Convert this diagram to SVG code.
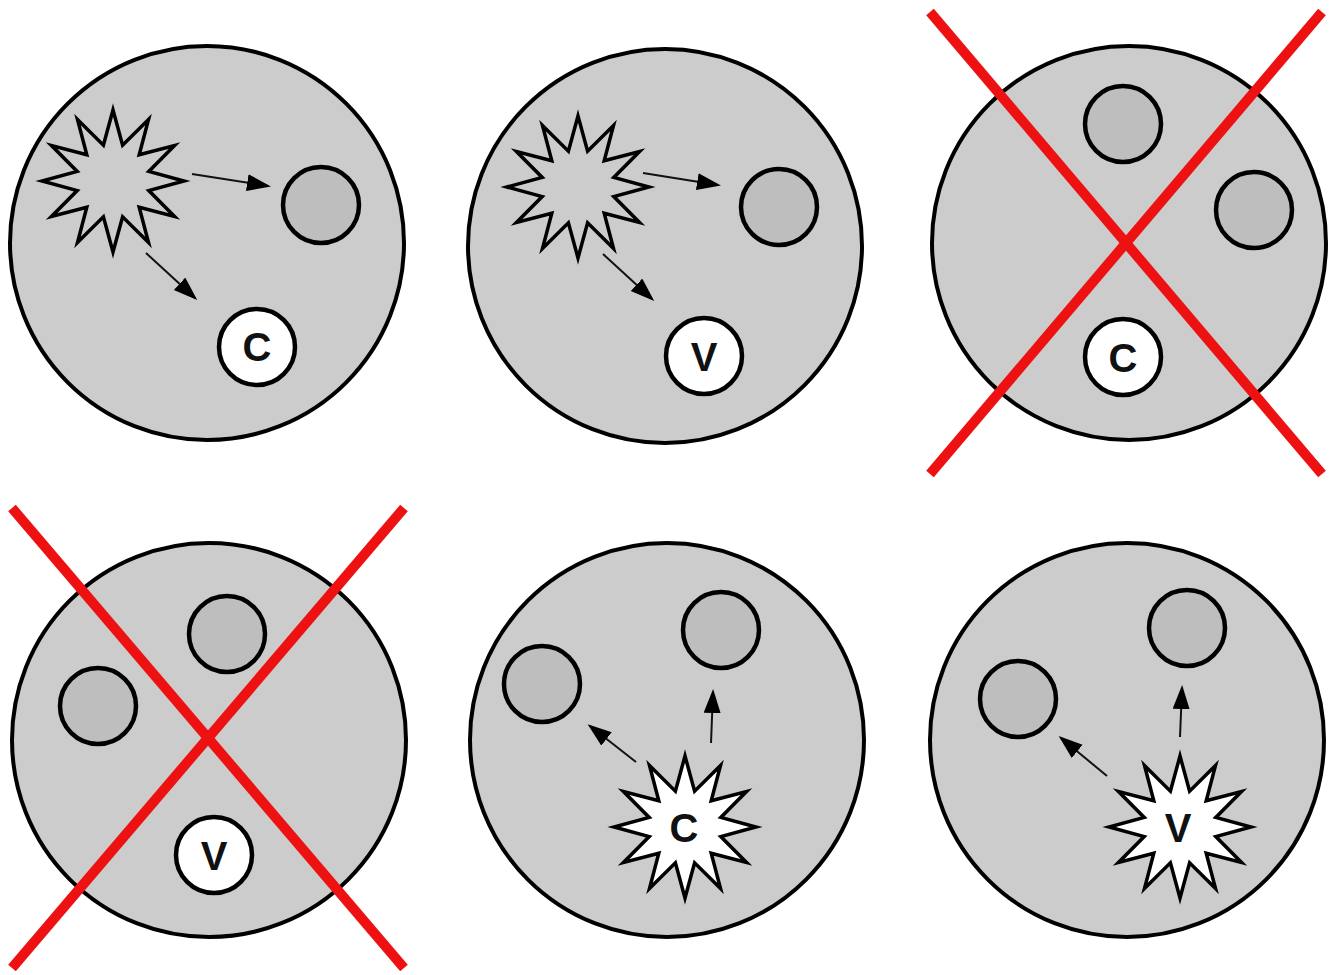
<svg xmlns="http://www.w3.org/2000/svg" xmlns:xlink="http://www.w3.org/1999/xlink" width="1337" height="975" viewBox="0 0 1337 975">
  <style>
    .cell { fill: #cccccc; stroke: #000; stroke-width: 4; }
    .org { fill: #bebebe; stroke: #000; stroke-width: 4.5; }
    .wht { fill: #ffffff; stroke: #000; stroke-width: 4.5; }
    .burst { stroke: #000; stroke-width: 3.5; stroke-linejoin: miter; stroke-miterlimit: 20; }
    .burst-grey { fill: #cccccc; }
    .burst-white { fill: #ffffff; }
    .lbl { font-family: "Liberation Sans", Arial, sans-serif; font-weight: bold; font-size: 40px; fill: #111; text-anchor: middle; }
    .arrow { stroke: #111; stroke-width: 2; fill: none; marker-end: url(#head); }
    .cross { stroke: #ee1111; stroke-width: 10; stroke-linecap: butt; }
  </style>
  <defs>
    <marker id="head" markerUnits="userSpaceOnUse" markerWidth="26" markerHeight="18" refX="21" refY="8.5" orient="auto">
      <path d="M0,0 L24,8.5 L0,17 Z" fill="#000"/>
    </marker>
    <path id="star" d="M0,-71 L9.6,-35.8 L35.5,-61.5 L26.2,-26.2 L61.5,-35.5 L35.8,-9.6 L71,0 L35.8,9.6 L61.5,35.5 L26.2,26.2 L35.5,61.5 L9.6,35.8 L0,71 L-9.6,35.8 L-35.5,61.5 L-26.2,26.2 L-61.5,35.5 L-35.8,9.6 L-71,0 L-35.8,-9.6 L-61.5,-35.5 L-26.2,-26.2 L-35.5,-61.5 L-9.6,-35.8 Z"/>
  </defs>
  <rect width="1337" height="975" fill="#ffffff"/>

  <!-- Panel 1 -->
  <g id="panel1">
    <g id="p1-cell"><circle class="cell" cx="207" cy="243" r="197"/></g>
    <g id="p1-burst"><use xlink:href="#star" href="#star" class="burst burst-grey" x="113" y="181"/></g>
    <g id="p1-organelle"><circle class="org" cx="321" cy="205" r="38"/></g>
    <g id="p1-c"><circle class="wht" cx="257" cy="347" r="38"/><text class="lbl" x="257" y="361">C</text></g>
  </g>

  <!-- Panel 2 -->
  <g id="panel2">
    <g id="p2-cell"><circle class="cell" cx="665" cy="246" r="197"/></g>
    <g id="p2-burst"><use xlink:href="#star" href="#star" class="burst burst-grey" x="578" y="187"/></g>
    <g id="p2-organelle"><circle class="org" cx="779" cy="207" r="38"/></g>
    <g id="p2-v"><circle class="wht" cx="704" cy="356" r="38"/><text class="lbl" x="704" y="371">V</text></g>
  </g>

  <!-- Panel 3 -->
  <g id="panel3">
    <g id="p3-cell"><circle class="cell" cx="1129" cy="243" r="197"/></g>
    <g id="p3-organelle-top"><circle class="org" cx="1123" cy="124" r="38"/></g>
    <g id="p3-organelle-right"><circle class="org" cx="1254" cy="210" r="38"/></g>
    <g id="p3-c"><circle class="wht" cx="1123" cy="357" r="38"/><text class="lbl" x="1123" y="372">C</text></g>
    <g id="p3-cross">
      <line class="cross" x1="930" y1="12" x2="1322" y2="474"/>
      <line class="cross" x1="1322" y1="12" x2="930" y2="474"/>
    </g>
  </g>

  <!-- Panel 4 -->
  <g id="panel4">
    <g id="p4-cell"><circle class="cell" cx="209" cy="740" r="197"/></g>
    <g id="p4-organelle-top"><circle class="org" cx="227" cy="634" r="38"/></g>
    <g id="p4-organelle-left"><circle class="org" cx="98" cy="706" r="38"/></g>
    <g id="p4-v"><circle class="wht" cx="214" cy="855" r="38"/><text class="lbl" x="214" y="870">V</text></g>
    <g id="p4-cross">
      <line class="cross" x1="12" y1="508" x2="404" y2="968"/>
      <line class="cross" x1="404" y1="508" x2="12" y2="968"/>
    </g>
  </g>

  <!-- Panel 5 -->
  <g id="panel5">
    <g id="p5-cell"><circle class="cell" cx="667" cy="740" r="197"/></g>
    <g id="p5-organelle-left"><circle class="org" cx="542" cy="684" r="38"/></g>
    <g id="p5-organelle-top"><circle class="org" cx="721" cy="630" r="38"/></g>
    <g id="p5-burst"><use xlink:href="#star" href="#star" class="burst burst-white" x="685" y="827"/><text class="lbl" x="684" y="842">C</text></g>
  </g>

  <!-- Panel 6 -->
  <g id="panel6">
    <g id="p6-cell"><circle class="cell" cx="1127" cy="740" r="197"/></g>
    <g id="p6-organelle-left"><circle class="org" cx="1018" cy="699" r="38"/></g>
    <g id="p6-organelle-top"><circle class="org" cx="1187" cy="628" r="38"/></g>
    <g id="p6-burst"><use xlink:href="#star" href="#star" class="burst burst-white" x="1180" y="827"/><text class="lbl" x="1178" y="842">V</text></g>
  </g>

  <!-- Connectors -->
  <g id="connectors">
    <line class="arrow" x1="192" y1="174" x2="268" y2="186"/>
    <line class="arrow" x1="146" y1="253" x2="195" y2="298"/>
    <line class="arrow" x1="643" y1="173" x2="718" y2="185"/>
    <line class="arrow" x1="603" y1="254" x2="652" y2="299"/>
    <line class="arrow" x1="711" y1="743" x2="713" y2="692"/>
    <line class="arrow" x1="636" y1="762" x2="590" y2="726"/>
    <line class="arrow" x1="1180" y1="737" x2="1182" y2="688"/>
    <line class="arrow" x1="1107" y1="776" x2="1061" y2="738"/>
  </g>
</svg>
